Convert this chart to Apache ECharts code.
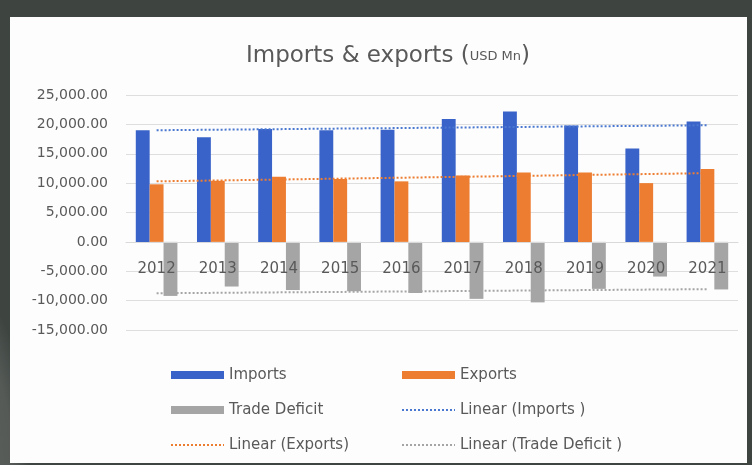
<!DOCTYPE html>
<html>
<head>
<meta charset="utf-8">
<script src="https://cdn.jsdelivr.net/npm/echarts@6/dist/echarts.min.js"></script>
<style>
  html, body { margin: 0; padding: 0; }
  body {
    width: 752px; height: 465px; position: relative; overflow: hidden;
    background: radial-gradient(ellipse 60px 180px at -30px 470px, #5e625f 0%, #555a57 70%, rgba(62,69,65,0) 100%), #3e4541;
  }
  #card { position: absolute; left: 10px; top: 17px; width: 737px; height: 446px; background: #fdfdfd; }
  #chart { position: absolute; left: 0; top: 0; width: 752px; height: 465px; }
</style>
</head>
<body>
<div id="card"></div>
<div id="chart"></div>
<script>
// Yearly trade figures, USD millions
const years = ['2012', '2013', '2014', '2015', '2016', '2017', '2018', '2019', '2020', '2021'];
const imports = [19000, 17800, 19200, 19000, 19100, 20900, 22200, 19800, 15900, 20500];
const exports = [9800, 10400, 11100, 10700, 10300, 11300, 11800, 11800, 10000, 12400];
const tradeDeficit = [-9200, -7600, -8200, -8400, -8700, -9700, -10300, -8000, -5900, -8100];

// Linear trend lines: value at the first and the last year
const importsTrend = [19000, 19850];
const exportsTrend = [10300, 11700];
const deficitTrend = [-8750, -8050];

const yTicks = [-15000, -10000, -5000, 0, 5000, 10000, 15000, 20000, 25000];

const FONT = '"DejaVu Sans", sans-serif';
const TEXT = '#595959';
const BLUE = '#3a63c9';
const ORANGE = '#ed7d31';
const GREY = '#a5a5a5';

// Plot area in pixels; the category axis sits on the zero line
const GRID = { left: 126, right: 14, top: 95, bottom: 135 };
const plotHeight = 465 - GRID.top - GRID.bottom;
const zeroOffset = -plotHeight * (0 - yTicks[0]) / (yTicks[yTicks.length - 1] - yTicks[0]);

function trendData(pair) {
  return [[years[0], pair[0]], [years[years.length - 1], pair[1]]];
}

const hiddenSymbol = { color: 'rgba(0,0,0,0)', borderWidth: 0, opacity: 0 };
const legendText = { color: TEXT, fontSize: 15, lineHeight: 16, fontFamily: FONT };

const chart = echarts.init(document.getElementById('chart'), null, { renderer: 'canvas' });

chart.setOption({
  animation: false,
  textStyle: { fontFamily: FONT },
  title: {
    text: 'Imports & exports ({s|USD Mn})',
    left: 241,
    top: 40,
    textStyle: {
      fontFamily: FONT,
      fontSize: 23,
      fontWeight: 'normal',
      color: TEXT,
      rich: { s: { fontFamily: FONT, fontSize: 13, color: TEXT } }
    }
  },
  grid: GRID,
  xAxis: {
    type: 'category',
    data: years,
    offset: zeroOffset,
    z: 10,
    axisLine: { onZero: false, lineStyle: { color: '#d9d9d9', width: 1 } },
    axisTick: { show: false },
    axisLabel: { color: TEXT, fontSize: 15, margin: 20, fontFamily: FONT },
    splitLine: { show: false }
  },
  yAxis: {
    type: 'value',
    min: yTicks[0],
    max: yTicks[yTicks.length - 1],
    interval: 5000,
    axisLine: { show: false },
    axisTick: { show: false },
    axisLabel: {
      color: TEXT,
      fontSize: 14,
      margin: 18,
      fontFamily: FONT,
      formatter: v => v.toLocaleString('en-US', { minimumFractionDigits: 2, maximumFractionDigits: 2 })
    },
    splitLine: { lineStyle: { color: '#dedede', width: 1 } }
  },
  legend: [
    {
      orient: 'vertical',
      left: 165,
      top: 362,
      itemWidth: 53,
      itemHeight: 8,
      itemGap: 19,
      textStyle: legendText,
      data: [
        { name: 'Imports', icon: 'rect' },
        { name: 'Trade Deficit', icon: 'rect' },
        { name: 'Linear (Exports)', itemStyle: hiddenSymbol }
      ]
    },
    {
      orient: 'vertical',
      left: 396,
      top: 362,
      itemWidth: 53,
      itemHeight: 8,
      itemGap: 19,
      textStyle: legendText,
      data: [
        { name: 'Exports', icon: 'rect' },
        { name: 'Linear (Imports )', itemStyle: hiddenSymbol },
        { name: 'Linear (Trade Deficit )', itemStyle: hiddenSymbol }
      ]
    }
  ],
  series: [
    {
      name: 'Imports', type: 'bar', data: imports,
      barGap: '0%', barCategoryGap: '32%',
      itemStyle: { color: BLUE }
    },
    {
      name: 'Exports', type: 'bar', data: exports,
      itemStyle: { color: ORANGE }
    },
    {
      name: 'Trade Deficit', type: 'bar', data: tradeDeficit,
      itemStyle: { color: GREY }
    },
    {
      name: 'Linear (Imports )', type: 'line', data: trendData(importsTrend),
      symbol: 'none', z: 5,
      lineStyle: { color: '#4a78d0', width: 2, type: [2, 2] },
      itemStyle: { color: '#4a78d0' }
    },
    {
      name: 'Linear (Exports)', type: 'line', data: trendData(exportsTrend),
      symbol: 'none', z: 5,
      lineStyle: { color: ORANGE, width: 2, type: [2, 2] },
      itemStyle: { color: ORANGE }
    },
    {
      name: 'Linear (Trade Deficit )', type: 'line', data: trendData(deficitTrend),
      symbol: 'none', z: 5,
      lineStyle: { color: GREY, width: 2, type: [2, 2] },
      itemStyle: { color: GREY }
    }
  ]
});
</script>
</body>
</html>
